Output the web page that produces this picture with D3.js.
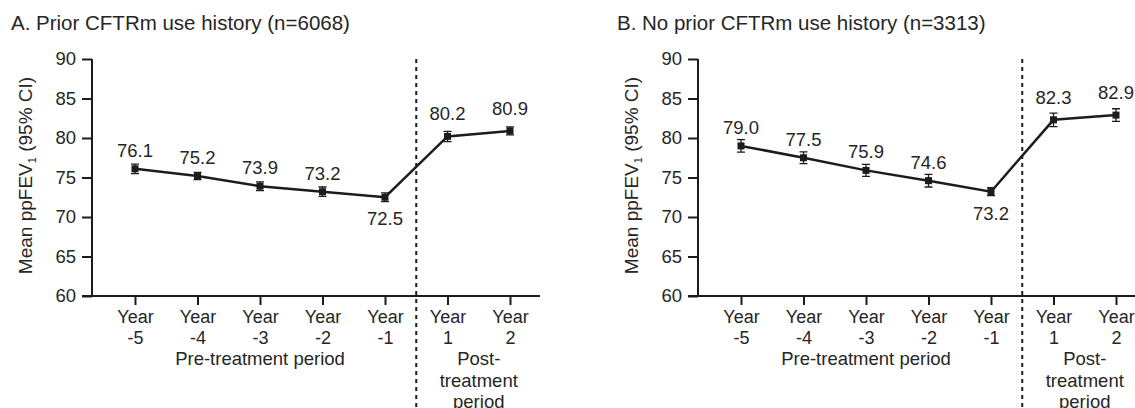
<!DOCTYPE html>
<html>
<head>
<meta charset="utf-8">
<script src="https://cdn.jsdelivr.net/npm/d3@7"></script>
<style>
  html, body { margin: 0; padding: 0; background: #fff; }
  svg { display: block; font-family: "Liberation Sans", Arial, Helvetica, sans-serif; }
  text { fill: #262626; }
</style>
</head>
<body>
<svg id="chart" width="1135" height="408"></svg>
<script>
// data
var years = ['-5', '-4', '-3', '-2', '-1', '1', '2'];
var yTicks = [60, 65, 70, 75, 80, 85, 90];
var titles = ['A. Prior CFTRm use history (n=6068)', 'B. No prior CFTRm use history (n=3313)'];
var meansA = [76.1, 75.2, 73.9, 73.2, 72.5, 80.2, 80.9];
var ciA = [0.6, 0.45, 0.55, 0.6, 0.55, 0.65, 0.5];
var meansB = [79.0, 77.5, 75.9, 74.6, 73.2, 82.3, 82.9];
var ciB = [0.8, 0.75, 0.75, 0.8, 0.5, 0.85, 0.8];

(function () {
  var svg = d3.select('#chart'),
      ink = '#1c1c1c',
      panels = [
    { title: titles[0], means: meansA, ci: ciA, left: 92 },
    { title: titles[1], means: meansB, ci: ciB, left: 698 }
  ],
      plotTop = 59,
      plotBottom = 296;

  var y = d3.scaleLinear().domain([60, 90]).range([plotBottom, plotTop]);
  var x = d3.scalePoint().domain(years).range([43, 418]);

  function drawPanel(p) {
    var g = svg.append('g').attr('transform', 'translate(' + p.left + ',0)');
    var pts = years.map(function (yr, i) {
      return { year: yr, v: p.means[i], ci: p.ci[i], post: +yr > 0 };
    });

    // title
    g.append('text').attr('x', -81).attr('y', 30)
      .style('font-size', '20.5px').text(p.title);

    // y axis title with subscript
    var yt = g.append('text')
      .attr('transform', 'translate(-60,' + ((plotTop + plotBottom) / 2 - 2) + ') rotate(-90)')
      .attr('text-anchor', 'middle').style('font-size', '19px');
    yt.append('tspan').text('Mean ppFEV');
    yt.append('tspan').attr('dy', 4).style('font-size', '11px').text('1');
    yt.append('tspan').attr('dy', -4).text(' (95% CI)');

    // y axis
    var ya = g.append('g').call(d3.axisLeft(y).tickValues(yTicks).tickSize(10).tickPadding(6));
    ya.select('.domain').attr('d', 'M0,' + plotTop + 'V' + plotBottom);
    ya.selectAll('line, path').attr('stroke', ink).attr('stroke-width', 2);
    ya.selectAll('text').style('font-size', '18.5px').attr('fill', '#262626');

    // x axis
    var xa = g.append('g').attr('transform', 'translate(0,' + plotBottom + ')')
      .call(d3.axisBottom(x).tickSize(9).tickFormat(''));
    xa.select('.domain').attr('d', 'M-10,0H448');
    xa.selectAll('line, path').attr('stroke', ink).attr('stroke-width', 2);
    xa.selectAll('.tick').each(function (d) {
      var t = d3.select(this).append('text').attr('text-anchor', 'middle')
        .style('font-size', '18px').attr('fill', '#262626');
      t.append('tspan').attr('x', 0).attr('y', 27).text('Year');
      t.append('tspan').attr('x', 0).attr('y', 48).text(d);
    });

    // period labels
    g.append('text').attr('x', x('-3')).attr('y', 365).attr('text-anchor', 'middle')
      .style('font-size', '18.5px').text('Pre-treatment period');
    var postX = (x('1') + x('2')) / 2;
    var post = g.append('text').attr('text-anchor', 'middle').style('font-size', '18.5px');
    ['Post-', 'treatment', 'period'].forEach(function (s, i) {
      post.append('tspan').attr('x', postX).attr('y', 365 + i * 21.5).text(s);
    });

    // dotted separator
    var sepX = (x('-1') + x('1')) / 2;
    g.append('line').attr('x1', sepX).attr('x2', sepX).attr('y1', plotTop).attr('y2', 408)
      .attr('stroke', ink).attr('stroke-width', 2).attr('stroke-dasharray', '4,4');

    // line
    g.append('path').datum(pts)
      .attr('d', d3.line().x(function (d) { return x(d.year); }).y(function (d) { return y(d.v); }))
      .attr('fill', 'none').attr('stroke', ink).attr('stroke-width', 2.5);

    // error bars
    var eb = g.selectAll('.eb').data(pts).enter().append('g').attr('class', 'eb');
    eb.append('path')
      .attr('d', function (d) {
        var cx = x(d.year), hi = y(d.v + d.ci), lo = y(d.v - d.ci);
        return 'M' + (cx - 4) + ',' + hi + 'H' + (cx + 4) + 'M' + cx + ',' + hi + 'V' + lo +
          'M' + (cx - 4) + ',' + lo + 'H' + (cx + 4);
      })
      .attr('fill', 'none').attr('stroke', ink).attr('stroke-width', 1.3);
    eb.append('rect')
      .attr('x', function (d) { return x(d.year) - 3.5; })
      .attr('y', function (d) { return y(d.v) - 3.5; })
      .attr('width', 7).attr('height', 7).attr('fill', ink);

    // value labels
    g.selectAll('.val').data(pts).enter().append('text').attr('class', 'val')
      .attr('x', function (d) { return x(d.year); })
      .attr('y', function (d) {
        if (d.year === '-1') return y(d.v) + 28;
        return y(d.v) - (d.post ? 16 : 12);
      })
      .attr('text-anchor', 'middle').style('font-size', '18.5px')
      .text(function (d) { return d.v.toFixed(1); });
  }

  panels.forEach(drawPanel);
})();
</script>
</body>
</html>
